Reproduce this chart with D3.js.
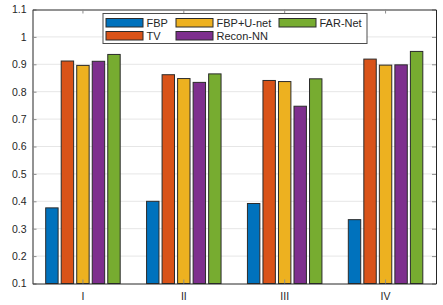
<!DOCTYPE html>
<html>
<head>
<meta charset="utf-8">
<script src="https://cdn.jsdelivr.net/npm/d3@7"></script>
<style>
  body { margin: 0; background: #fff; }
  svg { display: block; font-family: "Liberation Sans", Arial, sans-serif; }
</style>
</head>
<body>
<div id="container"></div>
<script>
const categories = ['I', 'II', 'III', 'IV'];
const methods = ['FBP', 'TV', 'FBP+U-net', 'Recon-NN', 'FAR-Net'];
const fbp = [0.376, 0.400, 0.392, 0.333];
const tv = [0.912, 0.862, 0.841, 0.919];
const fbpUnet = [0.896, 0.848, 0.837, 0.897];
const reconNN = [0.911, 0.834, 0.747, 0.898];
const farNet = [0.936, 0.865, 0.847, 0.947];
const yTicks = [0.1, 0.2, 0.3, 0.4, 0.5, 0.6, 0.7, 0.8, 0.9, 1, 1.1];

const series = [fbp, tv, fbpUnet, reconNN, farNet];
const colors = ['#0072BD', '#D95319', '#EDB120', '#7E2F8E', '#77AC30'];

const width = 443, height = 305;
const margin = {top: 9.5, right: 7, bottom: 21.5, left: 32.5};
const iw = width - margin.left - margin.right, ih = height - margin.top - margin.bottom;

const svg = d3.select('#container').append('svg').attr('width', width).attr('height', height);
const g = svg.append('g').attr('transform', `translate(${margin.left},${margin.top})`);

const x = d3.scaleBand().domain(categories).range([0, iw]);
const groupW = x.bandwidth() * 5 / 6.5;
const xs = d3.scaleBand().domain(methods).range([-groupW / 2, groupW / 2]).paddingInner(0.2).paddingOuter(0.1);
const y = d3.scaleLinear().domain([0.1, 1.1]).range([ih, 0]);

// grid
g.append('g').selectAll('line')
    .data(yTicks.slice(1, -1))
    .enter().append('line')
    .attr('x1', 0).attr('x2', iw)
    .attr('y1', d => y(d)).attr('y2', d => y(d))
    .attr('stroke', '#e6e6e6').attr('stroke-width', 1);

// bars
const groups = g.selectAll('.grp')
    .data(categories)
    .enter().append('g')
    .attr('transform', d => `translate(${x(d) + x.bandwidth() / 2},0)`);

groups.selectAll('rect')
    .data((c, i) => series.map((s, k) => ({k, v: s[i]})))
    .enter().append('rect')
    .attr('x', d => xs(methods[d.k]))
    .attr('width', xs.bandwidth())
    .attr('y', d => y(d.v))
    .attr('height', d => ih - y(d.v))
    .attr('fill', d => colors[d.k])
    .attr('stroke', '#2b2b2b').attr('stroke-width', 1);

// axes
const axisColor = '#262626';
const yAxis = g.append('g').call(d3.axisLeft(y).tickValues(yTicks).tickFormat(d3.format('~g')).tickSizeInner(-4).tickSizeOuter(0).tickPadding(6));
const yAxisR = g.append('g').attr('transform', `translate(${iw},0)`).call(d3.axisRight(y).tickValues(yTicks).tickFormat('').tickSizeInner(-4).tickSizeOuter(0));
const xAxis = g.append('g').attr('transform', `translate(0,${ih})`).call(d3.axisBottom(x).tickSizeInner(-4).tickSizeOuter(0).tickPadding(9));
const xAxisT = g.append('g').call(d3.axisTop(x).tickFormat('').tickSizeInner(-4).tickSizeOuter(0));

[yAxis, yAxisR, xAxis, xAxisT].forEach(a => {
  a.attr('color', axisColor);
  a.select('.domain').attr('stroke', axisColor).attr('stroke-width', 1);
  a.selectAll('.tick line').attr('stroke', '#8c8c8c');
  a.selectAll('text').attr('fill', axisColor).style('font-size', '10.5px');
});

// legend
const lg = svg.append('g').attr('transform', 'translate(103,13.5)');
lg.append('rect').attr('width', 264).attr('height', 30)
    .attr('fill', '#fff').attr('stroke', '#4d4d4d').attr('stroke-width', 1);
const legendPos = [[3, 5], [3, 18], [73, 5], [73, 18], [176, 5]];
const items = lg.selectAll('.item')
    .data(methods)
    .enter().append('g')
    .attr('transform', (d, i) => `translate(${legendPos[i][0]},${legendPos[i][1]})`);
items.append('rect').attr('width', 37).attr('height', 8.5)
    .attr('fill', (d, i) => colors[i]).attr('stroke', '#2b2b2b').attr('stroke-width', 1);
items.append('text').attr('x', 40.5).attr('y', 8.7)
    .attr('fill', axisColor).style('font-size', '11px')
    .text(d => d);
</script>
</body>
</html>
